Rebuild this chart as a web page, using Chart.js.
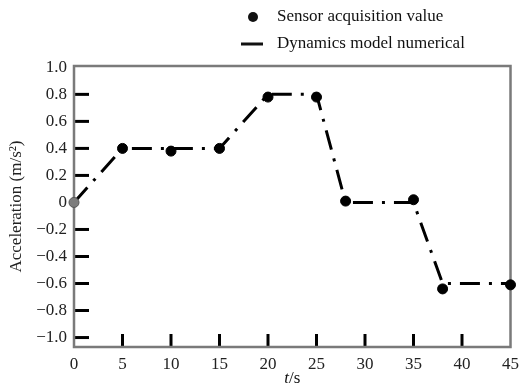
<!DOCTYPE html>
<html>
<head>
<meta charset="utf-8">
<script src="https://cdn.jsdelivr.net/npm/chart.js@4.4.1/dist/chart.umd.min.js"></script>
<style>
  body { margin: 0; background: #fff; }
  #wrap { width: 526px; height: 389px; }
</style>
</head>
<body>
<div id="wrap"><canvas id="chart" width="526" height="389"></canvas></div>
<script>
// data
const sensorTimes = [0, 5, 10, 15, 20, 25, 28, 35, 38, 45]
const sensorAccel = [0, 0.40, 0.38, 0.40, 0.78, 0.78, 0.01, 0.02, -0.64, -0.61]
const modelTimes = [0, 5, 15, 20, 25, 28, 35, 38, 45]
const modelAccel = [0, 0.4, 0.4, 0.8, 0.8, 0, 0, -0.6, -0.6]
const xTicks = [0, 5, 10, 15, 20, 25, 30, 35, 40, 45]
const yTicks = [-1.0, -0.8, -0.6, -0.4, -0.2, 0, 0.2, 0.4, 0.6, 0.8, 1.0]

const FONT = '"Liberation Serif", "Times New Roman", serif'

function fmtY(v) {
  if (v === 0) return '0'
  return v.toFixed(1).replace('-', '\u2212')
}

// frame, inward tick marks, legend and x title
const decor = {
  id: 'decor',
  beforeDatasetsDraw(chart) {
    const { ctx, chartArea: a, scales } = chart
    ctx.save()
    ctx.strokeStyle = '#000'
    ctx.lineWidth = 3
    yTicks.forEach(v => {
      if (v === 0 || v === 1.0) return
      const y = scales.y.getPixelForValue(v)
      ctx.beginPath()
      ctx.moveTo(a.left, y)
      ctx.lineTo(a.left + 15, y)
      ctx.stroke()
    })
    xTicks.forEach(v => {
      if (v === 0 || v === 45) return
      const x = scales.x.getPixelForValue(v)
      ctx.beginPath()
      ctx.moveTo(x, a.bottom)
      ctx.lineTo(x, a.bottom - 13)
      ctx.stroke()
    })
    ctx.strokeStyle = '#7a7a7a'
    ctx.lineWidth = 2.5
    ctx.strokeRect(a.left, a.top, a.right - a.left, a.bottom - a.top)
    ctx.restore()
  },
  afterDraw(chart) {
    const { ctx, chartArea: a } = chart
    ctx.save()
    ctx.fillStyle = '#111'
    ctx.strokeStyle = '#111'
    ctx.textBaseline = 'middle'
    ctx.textAlign = 'left'
    ctx.font = '17px ' + FONT
    // legend
    ctx.beginPath()
    ctx.arc(253, 17, 5, 0, Math.PI * 2)
    ctx.fill()
    ctx.fillText(chart.data.datasets[0].label, 277, 17)
    ctx.lineWidth = 3
    ctx.beginPath()
    ctx.moveTo(241, 44)
    ctx.lineTo(263, 44)
    ctx.stroke()
    ctx.fillText(chart.data.datasets[1].label, 277, 44)
    // x title with italic t
    const cx = (a.left + a.right) / 2
    ctx.font = 'italic 17px ' + FONT
    const wt = ctx.measureText('t').width
    ctx.font = '17px ' + FONT
    const ws = ctx.measureText('/s').width
    const x0 = cx - (wt + ws) / 2
    ctx.font = 'italic 17px ' + FONT
    ctx.fillText('t', x0, 379)
    ctx.font = '17px ' + FONT
    ctx.fillText('/s', x0 + wt, 379)
    ctx.restore()
  }
}

const ctx = document.getElementById('chart').getContext('2d')
const chart = new Chart(ctx, {
  type: 'scatter',
  data: {
    datasets: [
      {
        label: 'Sensor acquisition value',
        data: sensorTimes.map((t, i) => ({ x: t, y: sensorAccel[i] })),
        backgroundColor: sensorTimes.map((t, i) => (i === 0 ? '#7d7d7d' : '#000')),
        borderColor: sensorTimes.map((t, i) => (i === 0 ? '#555' : '#000')),
        pointRadius: 5,
        pointHoverRadius: 5,
        showLine: false,
        clip: false,
        order: 0
      },
      {
        type: 'line',
        label: 'Dynamics model numerical',
        data: modelTimes.map((t, i) => ({ x: t, y: modelAccel[i] })),
        borderColor: '#000',
        borderWidth: 3,
        borderDash: [20, 9, 3, 9],
        pointRadius: 0,
        tension: 0,
        fill: false,
        order: 1
      }
    ]
  },
  options: {
    responsive: false,
    animation: false,
    layout: { padding: { top: 66, right: 14, left: 0, bottom: 0 } },
    plugins: {
      legend: { display: false },
      tooltip: { enabled: false }
    },
    scales: {
      x: {
        type: 'linear',
        min: 0,
        max: 45,
        afterFit(scale) { scale.height = 42 },
        afterBuildTicks(scale) { scale.ticks = xTicks.map(v => ({ value: v })) },
        grid: { display: false, drawTicks: false },
        border: { display: false },
        ticks: {
          padding: 7,
          color: '#222',
          font: { family: FONT, size: 17 },
          callback: v => String(v)
        }
      },
      y: {
        type: 'linear',
        min: -1.07,
        max: 1.01,
        afterFit(scale) { scale.width = 74 },
        afterBuildTicks(scale) { scale.ticks = yTicks.map(v => ({ value: v })) },
        grid: { display: false, drawTicks: false },
        border: { display: false },
        ticks: {
          padding: 7,
          color: '#222',
          font: { family: FONT, size: 17 },
          callback: v => fmtY(v)
        },
        title: {
          display: true,
          text: 'Acceleration (m/s\u00b2)',
          color: '#222',
          font: { family: FONT, size: 17 },
          padding: { top: 6, bottom: 0 }
        }
      }
    }
  },
  plugins: [decor]
})
</script>
</body>
</html>
